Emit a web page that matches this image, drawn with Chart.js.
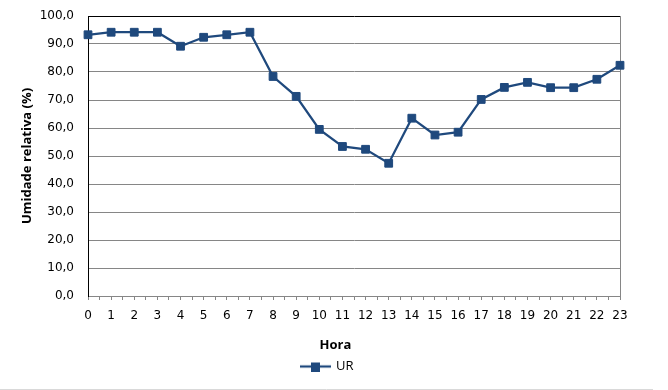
<!DOCTYPE html>
<html>
<head>
<meta charset="utf-8">
<script src="https://cdn.jsdelivr.net/npm/chart.js@4"></script>
<style>
html,body{margin:0;padding:0;background:#fff;}
#wrap{width:668px;height:390px;}
</style>
</head>
<body>
<div id="wrap"><canvas id="c" width="668" height="390"></canvas></div>
<script>
const hours = ['0','1','2','3','4','5','6','7','8','9','10','11','12','13','14','15','16','17','18','19','20','21','22','23'];
const urValues = [93.3, 94.2, 94.2, 94.2, 89.2, 92.4, 93.3, 94.2, 78.4, 71.3, 59.5, 53.4, 52.4, 47.4, 63.5, 57.5, 58.5, 70.2, 74.5, 76.3, 74.4, 74.4, 77.4, 82.4];
const yTicks = [0, 10, 20, 30, 40, 50, 60, 70, 80, 90, 100];
const seriesName = 'UR';
const xTitle = 'Hora';
const yTitle = 'Umidade relativa (%)';

const BLUE = '#1F497D';
const GRID = '#868686';

const points = hours.map((h, i) => ({x: i, y: urValues[i]}));

// legend symbol: line with square marker
const sym = document.createElement('canvas');
sym.width = 31; sym.height = 10;
(function(){
  const g = sym.getContext('2d');
  g.strokeStyle = BLUE; g.lineWidth = 2.25;
  g.beginPath(); g.moveTo(0, 5); g.lineTo(31, 5); g.stroke();
  g.fillStyle = BLUE; g.fillRect(11, 1, 9, 9);
})();

const bottomLine = {
  id: 'bottomLine',
  afterDraw(chart) {
    const ctx = chart.ctx;
    ctx.save();
    ctx.strokeStyle = '#d9d9d9';
    ctx.lineWidth = 1;
    ctx.beginPath(); ctx.moveTo(0, 389.5); ctx.lineTo(653, 389.5); ctx.stroke();
    ctx.restore();
  }
};

new Chart(document.getElementById('c'), {
  type: 'line',
  data: {
    datasets: [{
      label: seriesName,
      data: points,
      borderColor: BLUE,
      backgroundColor: BLUE,
      borderWidth: 2.25,
      pointStyle: 'rect',
      pointRadius: 5.5,
      pointHoverRadius: 5.5,
      pointBorderWidth: 1,
      pointBorderColor: BLUE,
      pointBackgroundColor: BLUE,
      tension: 0,
      clip: false
    }]
  },
  options: {
    responsive: false,
    animation: false,
    devicePixelRatio: 1,
    layout: {autoPadding: false, padding: {left: 0, right: 13, top: 16, bottom: 7}},
    plugins: {
      tooltip: {enabled: false},
      legend: {
        position: 'bottom',
        labels: {
          usePointStyle: true,
          pointStyleWidth: 28,
          padding: 4,
          color: '#000',
          font: {family: 'Open Sans', size: 13},
          generateLabels: () => [{
            text: seriesName, pointStyle: sym, fillStyle: BLUE, strokeStyle: BLUE,
            lineWidth: 0, hidden: false, datasetIndex: 0, fontColor: '#000'
          }]
        }
      }
    },
    scales: {
      x: {
        type: 'linear',
        min: 0, max: hours.length - 1,
        afterFit: s => { s.height = 60; },
        ticks: {
          stepSize: 0.5, maxTicksLimit: 200, autoSkip: false, maxRotation: 0,
          padding: 9, color: '#000',
          font: {family: 'DejaVu Sans', size: 12},
          callback: v => Number.isInteger(v) ? hours[v] : ''
        },
        grid: {display: true, drawOnChartArea: false, drawTicks: true, tickLength: 4, color: GRID, lineWidth: 1},
        border: {display: true, color: GRID, width: 1},
        title: {
          display: true, text: xTitle + '           ', color: '#000',
          font: {family: 'Open Sans', size: 13, weight: 'bold'},
          padding: {top: 0, bottom: 3}
        }
      },
      y: {
        min: 0, max: 100,
        afterFit: s => { s.width = 88; s.paddingTop = 0; s.paddingBottom = 0; },
        afterBuildTicks: s => { s.ticks = yTicks.map(v => ({value: v})); },
        ticks: {
          stepSize: 10, padding: 14, color: '#000',
          font: {family: 'DejaVu Sans', size: 12},
          callback: v => v.toFixed(1).replace('.', ',')
        },
        grid: {
          drawTicks: false, lineWidth: 1,
          color: c => (c.tick && c.tick.value === 100) ? '#000' : GRID
        },
        border: {display: true, color: '#000', width: 1},
        title: {
          display: true, text: yTitle, color: '#000',
          font: {family: 'Open Sans', size: 13, weight: 'bold'},
          padding: {top: 19, bottom: 0}
        }
      },
      y2: {
        position: 'right',
        min: 0, max: 100,
        afterFit: s => { s.width = 35; s.paddingTop = 0; s.paddingBottom = 0; },
        ticks: {display: false},
        grid: {display: false, drawTicks: false},
        border: {display: true, color: GRID, width: 1}
      }
    }
  },
  plugins: [bottomLine]
});
</script>
</body>
</html>
